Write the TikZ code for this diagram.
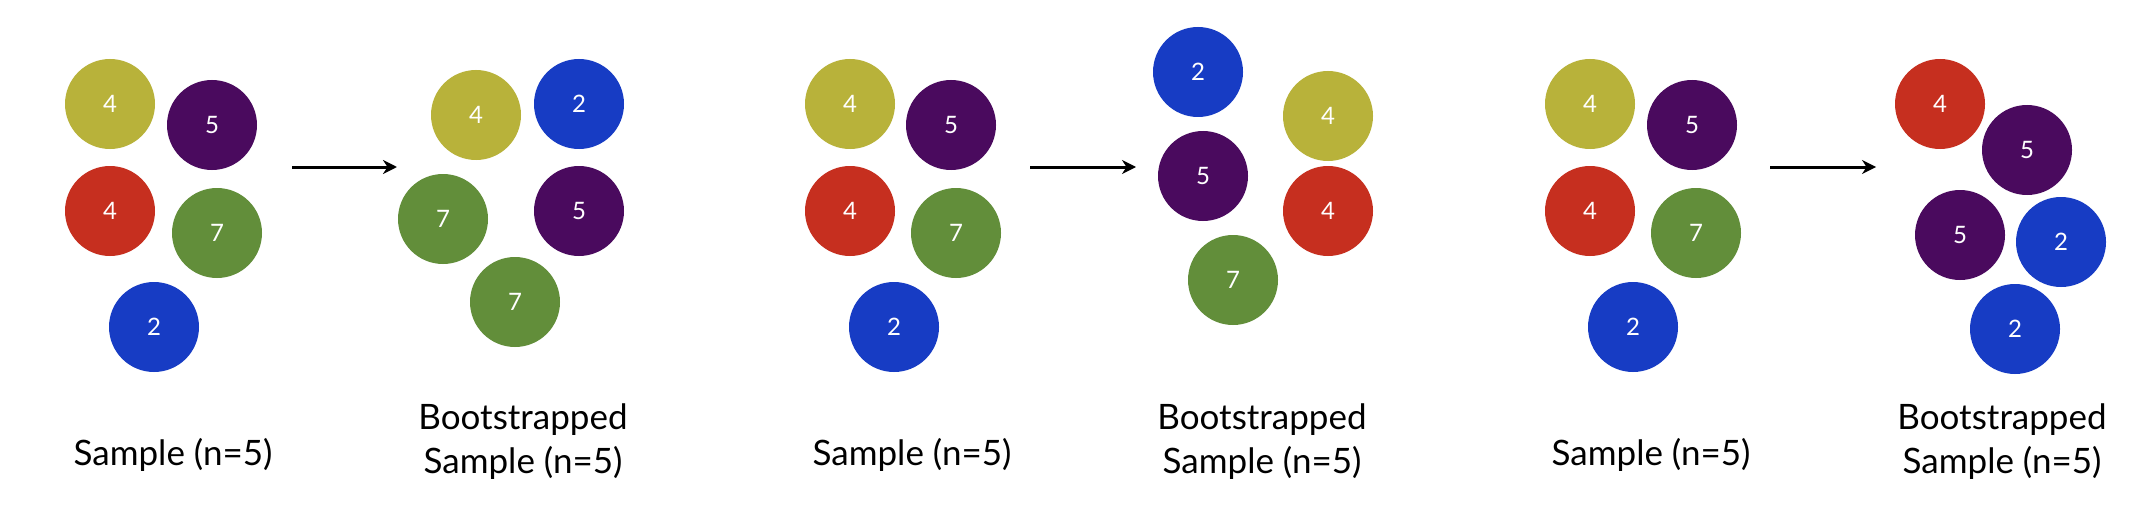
\documentclass[tikz,border=0pt]{standalone}
\usepackage{fontspec}
\setmainfont{Lato}
\usetikzlibrary{arrows.meta}
\definecolor{cyel}{HTML}{B8B23A}
\definecolor{cpur}{HTML}{4A0A5E}
\definecolor{cred}{HTML}{C62F1F}
\definecolor{cgrn}{HTML}{628E3A}
\definecolor{cblu}{HTML}{173CC4}
\begin{document}
\begin{tikzpicture}[x=1pt,y=-1pt,
  ball/.style={circle, minimum size=90pt, inner sep=0pt, text=white, font=\fontsize{24}{24}\selectfont},
  yel/.style={ball, fill=cyel},
  pur/.style={ball, fill=cpur},
  red/.style={ball, fill=cred},
  grn/.style={ball, fill=cgrn},
  blu/.style={ball, fill=cblu},
  lbl/.style={align=center, font=\fontsize{35}{44}\selectfont, inner sep=0pt},
  arr/.style={-{Stealth[length=14pt,width=14pt]}, line width=3pt}]
\useasboundingbox[fill=white] (0,0) rectangle (2146,532);
% group 1
\node[yel] (s1a) at (110,104) {4};
\node[pur] (s1b) at (212,125) {5};
\node[red] (s1c) at (110,211) {4};
\node[grn] (s1d) at (217,233) {7};
\node[blu] (s1e) at (154,327) {2};
\node[yel] (b1a) at (476,115) {4};
\node[blu] (b1b) at (579,104) {2};
\node[grn] (b1c) at (443,219) {7};
\node[pur] (b1d) at (579,211) {5};
\node[grn] (b1e) at (515,302) {7};
\coordinate (a1s) at (292,167);
\coordinate (a1e) at (397,167);
\draw[arr] (a1s) -- (a1e);
\node[lbl] (l1) at (173,455) {Sample (n=5)};
\node[lbl] (m1) at (523,442) {Bootstrapped\\Sample (n=5)};
% group 2
\node[yel] (s2a) at (850,104) {4};
\node[pur] (s2b) at (951,125) {5};
\node[red] (s2c) at (850,211) {4};
\node[grn] (s2d) at (956,233) {7};
\node[blu] (s2e) at (894,327) {2};
\node[blu] (b2a) at (1198,72) {2};
\node[yel] (b2b) at (1328,116) {4};
\node[pur] (b2c) at (1203,176) {5};
\node[red] (b2d) at (1328,211) {4};
\node[grn] (b2e) at (1233,280) {7};
\coordinate (a2s) at (1030,167);
\coordinate (a2e) at (1136,167);
\draw[arr] (a2s) -- (a2e);
\node[lbl] (l2) at (912,455) {Sample (n=5)};
\node[lbl] (m2) at (1262,442) {Bootstrapped\\Sample (n=5)};
% group 3
\node[yel] (s3a) at (1590,104) {4};
\node[pur] (s3b) at (1692,125) {5};
\node[red] (s3c) at (1590,211) {4};
\node[grn] (s3d) at (1696,233) {7};
\node[blu] (s3e) at (1633,327) {2};
\node[red] (b3a) at (1940,104) {4};
\node[pur] (b3b) at (2027,150) {5};
\node[pur] (b3c) at (1960,235) {5};
\node[blu] (b3d) at (2061,242) {2};
\node[blu] (b3e) at (2015,329) {2};
\coordinate (a3s) at (1770,167);
\coordinate (a3e) at (1876,167);
\draw[arr] (a3s) -- (a3e);
\node[lbl] (l3) at (1651,455) {Sample (n=5)};
\node[lbl] (m3) at (2002,442) {Bootstrapped\\Sample (n=5)};
\end{tikzpicture}
\end{document}
